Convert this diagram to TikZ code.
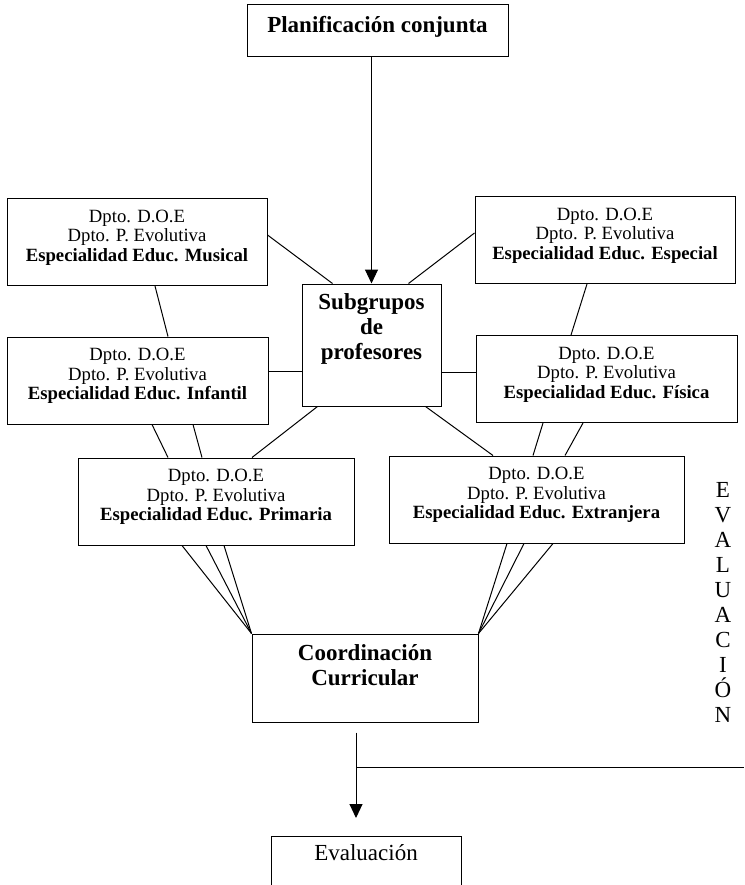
\documentclass[tikz,border=0pt]{standalone}
\usepackage{fontspec}
\setmainfont{Liberation Serif}
\usetikzlibrary{arrows.meta}
\newcommand\dptfont{\fontsize{18.7}{19.6}\selectfont}
\newcommand\bigfont{\fontsize{23}{25}\selectfont}

\begin{document}
\begin{tikzpicture}[x=1pt, y=-1pt, line width=1pt,
  box/.style = {draw, align=center, inner sep=0pt},
  lift/.style = {execute at end node={\rule[-#1]{0pt}{#1}}},
  dpto/.style = {box, font=\dptfont, minimum height=87pt, lift=13pt},
  big/.style = {box, font=\bfseries\bigfont},
  arr/.style = {-{Triangle[width=13pt,length=14pt]}}]
\useasboundingbox (0,0) rectangle (744,885);
\node[big, minimum width=261pt, minimum height=52pt, lift=13.6pt] (plan) at (377.5,31) {Planificación conjunta};
\node[big, minimum width=139pt, minimum height=122pt, lift=37pt] (sub) at (371.5,345) {Subgrupos\\de\\profesores};
\node[dpto, minimum width=260pt] (mus) at (137,242) {Dpto. D.O.E\\Dpto. P. Evolutiva\\\textbf{Especialidad Educ. Musical}};
\node[dpto, minimum width=260pt] (esp) at (605,240) {Dpto. D.O.E\\Dpto. P. Evolutiva\\\textbf{Especialidad Educ. Especial}};
\node[dpto, minimum width=261pt] (inf) at (137.5,380.5) {Dpto. D.O.E\\Dpto. P. Evolutiva\\\textbf{Especialidad Educ. Infantil}};
\node[dpto, minimum width=261pt] (fis) at (606.5,379) {Dpto. D.O.E\\Dpto. P. Evolutiva\\\textbf{Especialidad Educ. Física}};
\node[dpto, minimum width=276pt] (pri) at (216,501.5) {Dpto. D.O.E\\Dpto. P. Evolutiva\\\textbf{Especialidad Educ. Primaria}};
\node[dpto, minimum width=295pt] (ext) at (536.5,499.5) {Dpto. D.O.E\\Dpto. P. Evolutiva\\\textbf{Especialidad Educ. Extranjera}};
\node[big, minimum width=226pt, minimum height=88pt, lift=26.6pt] (coord) at (365,678) {Coordinación\\Curricular};
\node[box, font=\bigfont, minimum width=190pt, anchor=north, inner ysep=8.3pt, lift=40pt] (eval) at (366,836) {Evaluación};
\node[font=\bigfont, align=center, inner sep=0pt] (evalv) at (723,602) {E\\V\\A\\L\\U\\A\\C\\I\\Ó\\N};

\draw[arr] (plan.south -| sub.north) -- (sub.north);
\draw ([yshift=7pt]mus.east) -- ([xshift=31pt]sub.north west);
\draw ([yshift=7pt]esp.west) -- ([xshift=-33pt]sub.north east);
\draw ([xshift=18pt]mus.south) -- ([xshift=30.5pt]inf.north);
\draw ([xshift=-18pt]esp.south) -- ([xshift=-35.5pt]fis.north);
\draw ([yshift=9.5pt]inf.east) -- ([yshift=-26pt]sub.west);
\draw ([yshift=7pt]fis.west) -- ([yshift=-27pt]sub.east);
\draw ([xshift=16pt]sub.south west) -- ([xshift=36pt]pri.north);
\draw ([xshift=-16pt]sub.south east) -- ([xshift=-43.5pt]ext.north);
\draw ([xshift=14.5pt]inf.south) -- ([xshift=-48pt]pri.north);
\draw ([xshift=55.5pt]inf.south) -- ([xshift=-14pt]pri.north);
\draw ([xshift=-63.5pt]fis.south) -- ([xshift=-3.5pt]ext.north);
\draw ([xshift=-23.5pt]fis.south) -- ([xshift=28.5pt]ext.north);
\foreach \dx in {-34,-10,8}
  \draw ([xshift=\dx pt]pri.south) -- (coord.north west);
\foreach \dx in {-29.5,-12.5,16.5}
  \draw ([xshift=\dx pt]ext.south) -- (coord.north east);
\coordinate (fork) at (356,767);
\coordinate (edge) at (744,767);
\draw[arr, shorten <=10pt, shorten >=18pt] (coord.south -| fork) -- (eval.north -| fork);
\draw (fork) -- (edge);
\end{tikzpicture}
\end{document}
